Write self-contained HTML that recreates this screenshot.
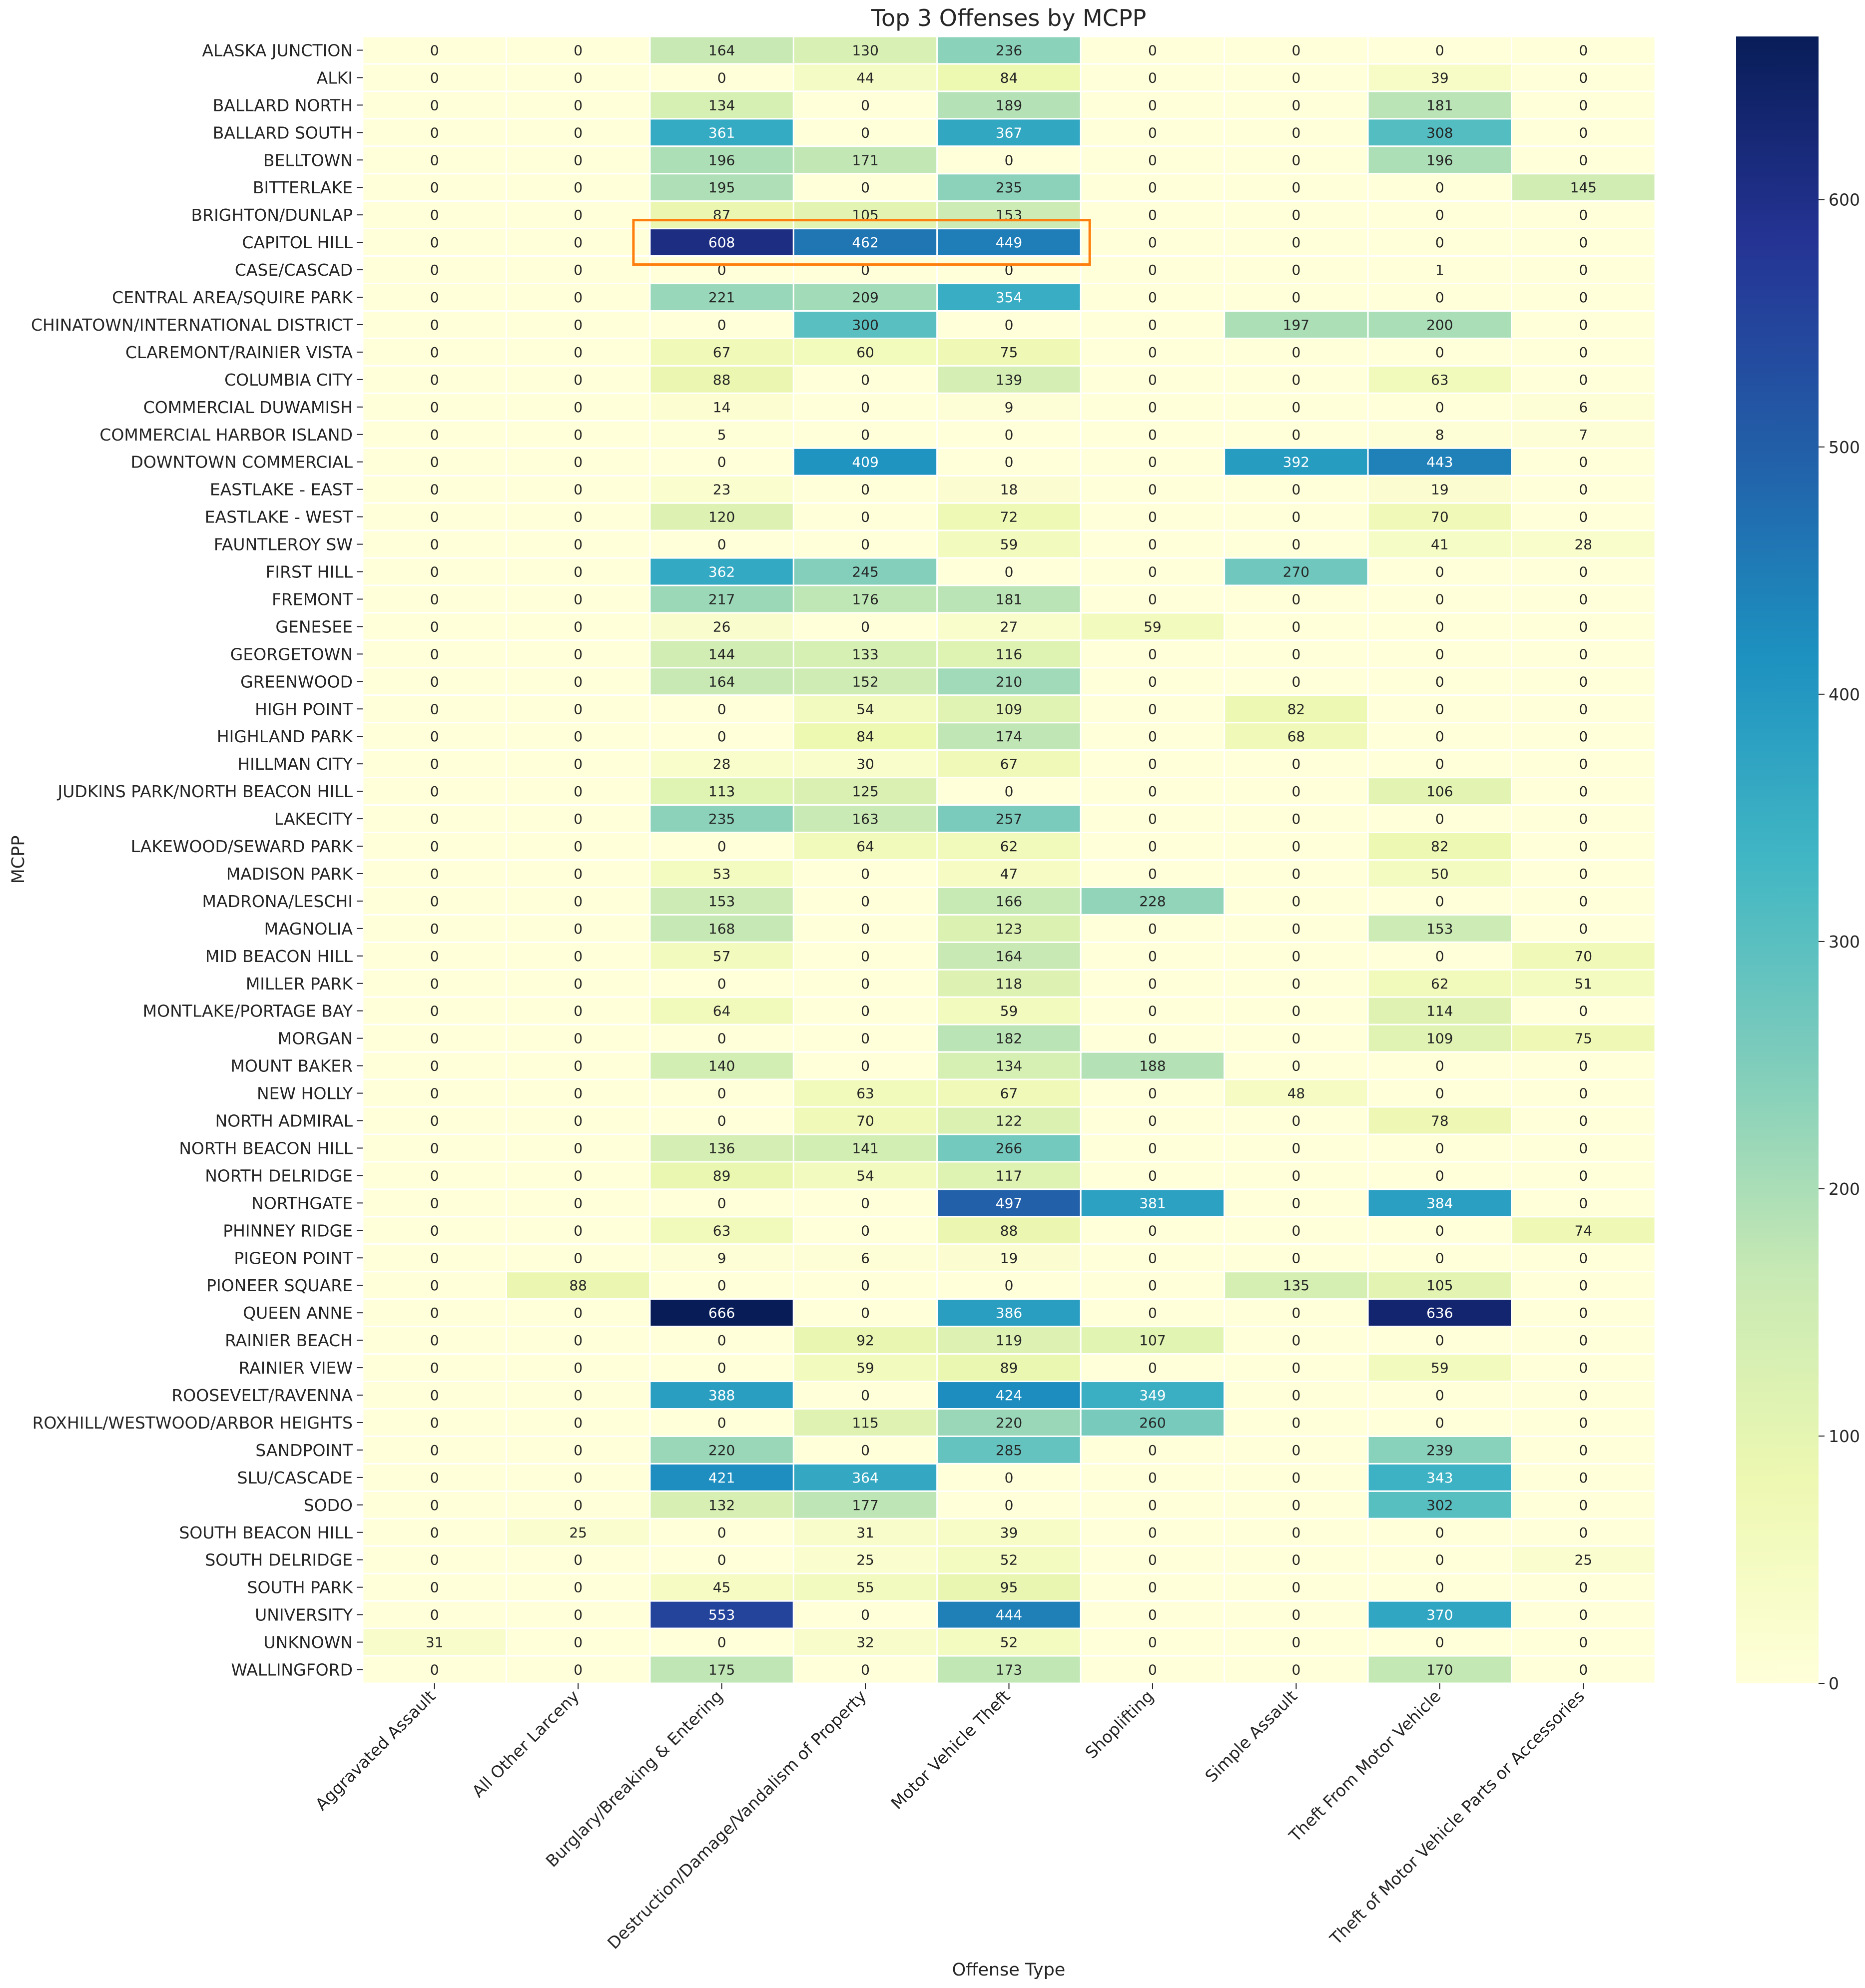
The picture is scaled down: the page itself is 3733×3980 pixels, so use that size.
<!DOCTYPE html>
<html><head><meta charset="utf-8"><style>
html,body{margin:0;padding:0;background:#fff;}
svg{display:block;font-family:"DejaVu Sans","Liberation Sans",sans-serif;}
</style></head><body>
<svg id="chart" width="3733" height="3980" viewBox="0 0 3733 3980" xmlns="http://www.w3.org/2000/svg">
<defs><linearGradient id="cbgrad" x1="0" y1="1" x2="0" y2="0"></linearGradient></defs>
<text x="2019" y="52" font-size="46" text-anchor="middle" fill="#262626">Top 3 Offenses by MCPP</text>
<text x="2019" y="3955" font-size="35" text-anchor="middle" fill="#262626">Offense Type</text>
<text transform="translate(48,1721) rotate(-90)" font-size="35" text-anchor="middle" fill="#262626">MCPP</text>
<g id="cells"></g><g id="ylabels"></g><g id="xlabels"></g><g id="cbar"></g>
</svg>
<script>
const categories = ["Aggravated Assault","All Other Larceny","Burglary/Breaking & Entering","Destruction/Damage/Vandalism of Property","Motor Vehicle Theft","Shoplifting","Simple Assault","Theft From Motor Vehicle","Theft of Motor Vehicle Parts or Accessories"];
const rowsNames = ["ALASKA JUNCTION","ALKI","BALLARD NORTH","BALLARD SOUTH","BELLTOWN","BITTERLAKE","BRIGHTON/DUNLAP","CAPITOL HILL","CASE/CASCAD","CENTRAL AREA/SQUIRE PARK","CHINATOWN/INTERNATIONAL DISTRICT","CLAREMONT/RAINIER VISTA","COLUMBIA CITY","COMMERCIAL DUWAMISH","COMMERCIAL HARBOR ISLAND","DOWNTOWN COMMERCIAL","EASTLAKE - EAST","EASTLAKE - WEST","FAUNTLEROY SW","FIRST HILL","FREMONT","GENESEE","GEORGETOWN","GREENWOOD","HIGH POINT","HIGHLAND PARK","HILLMAN CITY","JUDKINS PARK/NORTH BEACON HILL","LAKECITY","LAKEWOOD/SEWARD PARK","MADISON PARK","MADRONA/LESCHI","MAGNOLIA","MID BEACON HILL","MILLER PARK","MONTLAKE/PORTAGE BAY","MORGAN","MOUNT BAKER","NEW HOLLY","NORTH ADMIRAL","NORTH BEACON HILL","NORTH DELRIDGE","NORTHGATE","PHINNEY RIDGE","PIGEON POINT","PIONEER SQUARE","QUEEN ANNE","RAINIER BEACH","RAINIER VIEW","ROOSEVELT/RAVENNA","ROXHILL/WESTWOOD/ARBOR HEIGHTS","SANDPOINT","SLU/CASCADE","SODO","SOUTH BEACON HILL","SOUTH DELRIDGE","SOUTH PARK","UNIVERSITY","UNKNOWN","WALLINGFORD"];
const values = [
[0,0,164,130,236,0,0,0,0],[0,0,0,44,84,0,0,39,0],[0,0,134,0,189,0,0,181,0],[0,0,361,0,367,0,0,308,0],
[0,0,196,171,0,0,0,196,0],[0,0,195,0,235,0,0,0,145],[0,0,87,105,153,0,0,0,0],[0,0,608,462,449,0,0,0,0],
[0,0,0,0,0,0,0,1,0],[0,0,221,209,354,0,0,0,0],[0,0,0,300,0,0,197,200,0],[0,0,67,60,75,0,0,0,0],
[0,0,88,0,139,0,0,63,0],[0,0,14,0,9,0,0,0,6],[0,0,5,0,0,0,0,8,7],[0,0,0,409,0,0,392,443,0],
[0,0,23,0,18,0,0,19,0],[0,0,120,0,72,0,0,70,0],[0,0,0,0,59,0,0,41,28],[0,0,362,245,0,0,270,0,0],
[0,0,217,176,181,0,0,0,0],[0,0,26,0,27,59,0,0,0],[0,0,144,133,116,0,0,0,0],[0,0,164,152,210,0,0,0,0],
[0,0,0,54,109,0,82,0,0],[0,0,0,84,174,0,68,0,0],[0,0,28,30,67,0,0,0,0],[0,0,113,125,0,0,0,106,0],
[0,0,235,163,257,0,0,0,0],[0,0,0,64,62,0,0,82,0],[0,0,53,0,47,0,0,50,0],[0,0,153,0,166,228,0,0,0],
[0,0,168,0,123,0,0,153,0],[0,0,57,0,164,0,0,0,70],[0,0,0,0,118,0,0,62,51],[0,0,64,0,59,0,0,114,0],
[0,0,0,0,182,0,0,109,75],[0,0,140,0,134,188,0,0,0],[0,0,0,63,67,0,48,0,0],[0,0,0,70,122,0,0,78,0],
[0,0,136,141,266,0,0,0,0],[0,0,89,54,117,0,0,0,0],[0,0,0,0,497,381,0,384,0],[0,0,63,0,88,0,0,0,74],
[0,0,9,6,19,0,0,0,0],[0,88,0,0,0,0,135,105,0],[0,0,666,0,386,0,0,636,0],[0,0,0,92,119,107,0,0,0],
[0,0,0,59,89,0,0,59,0],[0,0,388,0,424,349,0,0,0],[0,0,0,115,220,260,0,0,0],[0,0,220,0,285,0,0,239,0],
[0,0,421,364,0,0,0,343,0],[0,0,132,177,0,0,0,302,0],[0,25,0,31,39,0,0,0,0],[0,0,0,25,52,0,0,0,25],
[0,0,45,55,95,0,0,0,0],[0,0,553,0,444,0,0,370,0],[31,0,0,32,52,0,0,0,0],[0,0,175,0,173,0,0,170,0]];
const cbarTicks = [0,100,200,300,400,500,600];
const highlightRow = "CAPITOL HILL";
const highlightCols = [2,4];

const NS="http://www.w3.org/2000/svg";
const L=726,R=3313,T=73,B=3370;
const cw=(R-L)/categories.length, rh=(B-T)/rowsNames.length;
let vmax=0; values.forEach(r=>r.forEach(v=>{if(v>vmax)vmax=v;}));
const vmin=0;
const stops=["#ffffd9","#edf8b1","#c7e9b4","#7fcdbb","#41b6c4","#1d91c0","#225ea8","#253494","#081d58"];
function hex(h){return [1,3,5].map(i=>parseInt(h.substr(i,2),16));}
function cmap(t){t=Math.max(0,Math.min(1,t));const p=t*(stops.length-1);const i=Math.min(Math.floor(p),stops.length-2);const f=p-i;const a=hex(stops[i]),b=hex(stops[i+1]);const c=a.map((x,k)=>Math.round(x+(b[k]-x)*f));return {s:"rgb("+c.join(",")+")",c:c};}
function lum(c){const l=c.map(x=>{x/=255;return x<=0.03928?x/12.92:Math.pow((x+0.055)/1.055,2.4);});return 0.2126*l[0]+0.7152*l[1]+0.0722*l[2];}
function xs(j){return L+j*cw;}
function ys(i){return T+i*rh;}
function el(tag,attrs,parent){const e=document.createElementNS(NS,tag);for(const k in attrs)e.setAttribute(k,attrs[k]);parent.appendChild(e);return e;}
const gc=document.getElementById("cells"), gy=document.getElementById("ylabels"), gx=document.getElementById("xlabels"), gb=document.getElementById("cbar");
values.forEach((row,i)=>{row.forEach((v,j)=>{
  const col=cmap((v-vmin)/(vmax-vmin));
  const r=el("rect",{x:xs(j),y:ys(i),width:cw,height:rh,fill:col.s,stroke:"#fff","stroke-width":3},gc);
  
  
  const t=el("text",{x:xs(j)+cw/2,y:ys(i)+rh/2+10,"font-size":28,"text-anchor":"middle",fill:lum(col.c)>0.408?"#262626":"#ffffff"},gc);
  t.textContent=v;
  
  
});});
rowsNames.forEach((n,i)=>{
  const cy=ys(i)+rh/2;
  const tk=el("line",{x1:L-12,x2:L,y1:cy,y2:cy,stroke:"#262626","stroke-width":2},gy);
  
  
  const t=el("text",{x:L-20,y:cy+12,"font-size":33,"text-anchor":"end",fill:"#262626"},gy);
  t.textContent=n;
  
  
});
categories.forEach((n,j)=>{
  const cx=xs(j)+cw/2;
  const tk=el("line",{x1:cx,x2:cx,y1:B,y2:B+12,stroke:"#262626","stroke-width":2},gx);
  
  
  const t=el("text",{transform:"translate("+(cx+4)+","+(B+28)+") rotate(-45)","font-size":33,"text-anchor":"end",fill:"#262626"},gx);
  t.textContent=n;
  
  
});
(function(){
  const i=rowsNames.indexOf(highlightRow);
  const hb=el("rect",{x:xs(highlightCols[0])-33,y:ys(i)-17,width:xs(highlightCols[1]+1)-xs(highlightCols[0])+51,height:rh+34,fill:"none",stroke:"#ff7f0e","stroke-width":5},gc);
  
  
})();
const grad=document.getElementById("cbgrad");
for(let k=0;k<=40;k++){el("stop",{offset:(k/40),"stop-color":cmap(k/40).s},grad);}
const CL=3475,CR=3640;
function cy(v){return B-(v-vmin)/(vmax-vmin)*(B-T);}
const cb=el("rect",{x:CL,y:T,width:CR-CL,height:B-T,fill:"url(#cbgrad)"},gb);


cbarTicks.forEach(v=>{
  const y=cy(v);
  const tk=el("line",{x1:CR,x2:CR+12,y1:y,y2:y,stroke:"#262626","stroke-width":2},gb);
  
  
  const t=el("text",{x:CR+20,y:y+12,"font-size":33,fill:"#262626"},gb);
  t.textContent=v;
  
  
});
</script>
</body></html>
